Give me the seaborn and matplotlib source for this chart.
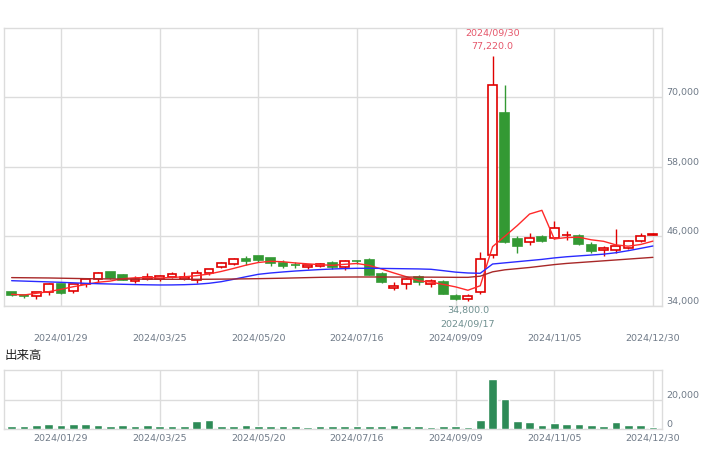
import numpy as np
import pandas as pd
import matplotlib
matplotlib.use("Agg")
import matplotlib.pyplot as plt
import matplotlib.transforms as mtransforms
import seaborn as sns

# weekly candles, 2024/01/01 .. 2024/12/30 (53 weeks)
opens = [36420, 35900, 35680, 36370, 37850, 36540, 37850, 38660, 39820, 39350,
         38270, 38610, 38720, 39060, 38700, 38440, 39650, 40690, 41200, 42070,
         42640, 42240, 41430, 41120, 40690, 40860, 41380, 40690, 41830, 41940,
         39530, 37110, 37750, 39060, 37750, 38140, 35730, 35260, 36370, 42750,
         67280, 45570, 45000, 45860, 45800, 46200, 46140, 44530, 43620, 43620,
         44070, 45170, 46210]
highs = [36420, 35900, 36370, 37920, 37850, 37850, 38830, 39820, 39820, 39580,
         39130, 39650, 39300, 39820, 39820, 40170, 40340, 41660, 42300, 42580,
         42640, 42240, 41900, 41550, 41080, 41430, 41780, 41940, 42010, 42240,
         39930, 38140, 38840, 39410, 38660, 38490, 36130, 36020, 43380, 77220,
         72170, 46100, 46550, 46200, 48730, 46900, 46370, 44980, 44300, 47250,
         45400, 46550, 46550]
lows = [35730, 35380, 35210, 35950, 36070, 36190, 37330, 38150, 38660, 38490,
        38020, 38490, 38400, 38840, 38490, 38000, 39300, 40500, 41000, 41080,
        41550, 40860, 40550, 40550, 40460, 40690, 40460, 40280, 41200, 39290,
        38020, 36760, 36990, 37580, 37230, 36130, 34980, 34800, 36020, 42300,
        44880, 43100, 44530, 45100, 45600, 45450, 44530, 43100, 42640, 43200,
        43900, 45000, 46210]
closes = [35950, 35680, 36370, 37800, 36190, 37850, 38700, 39650, 38890, 38490,
          38660, 38960, 39130, 39470, 39050, 39650, 40340, 41380, 42070, 41830,
          41950, 41380, 40960, 41030, 41080, 41250, 40800, 41830, 41720, 39410,
          38140, 37400, 38610, 38140, 38380, 36130, 35260, 35680, 42070, 72120,
          45100, 44410, 45690, 45280, 47420, 46300, 44650, 43500, 43960, 44360,
          45170, 46090, 46430]

# moving average lines
ma_short = [36020, 35900, 36190, 36470, 36880, 37330, 37700, 38100, 38300, 38720,
            38870, 38930, 38830, 38940, 39040, 39240, 39520, 39970, 40490, 41050,
            41510, 41720, 41640, 41430, 41280, 41140, 41020, 41200, 41340, 41000,
            40380, 39700, 39060, 38340, 38130, 37730, 37300, 36720, 37500, 44250,
            46050, 47880, 49880, 50520, 45580, 45820, 45870, 45430, 45170, 44550,
            44330, 44620, 45200]
ma_mid = [38370, 38300, 38230, 38160, 38090, 38000, 37920, 37850, 37800, 37750,
          37700, 37660, 37630, 37640, 37680, 37760, 37920, 38200, 38610, 39050,
          39470, 39700, 39880, 40040, 40170, 40290, 40390, 40460, 40510, 40510,
          40490, 40460, 40430, 40400, 40340, 40100, 39850, 39700, 39650, 41250,
          41450, 41650, 41850, 42050, 42300, 42500, 42650, 42800, 42950, 43200,
          43550, 43950, 44360]
ma_long = [38900, 38880, 38860, 38840, 38800, 38760, 38720, 38690, 38670, 38650,
           38640, 38630, 38620, 38610, 38610, 38610, 38620, 38640, 38660, 38690,
           38720, 38760, 38800, 38850, 38900, 38950, 38980, 39000, 39010, 39010,
           39010, 39000, 39000, 38990, 38980, 38970, 38950, 38950, 39150, 39900,
           40250, 40450, 40650, 40900, 41150, 41350, 41500, 41650, 41800, 41950,
           42100, 42250, 42400]

volume = [2200, 2200, 2900, 3550, 2900, 3550, 3550, 2900, 2200, 2900,
          2200, 2900, 2200, 2200, 2200, 5100, 6200, 2200, 2200, 2900,
          2200, 2200, 2200, 2200, 1550, 2200, 2200, 2200, 2200, 2200,
          2200, 2900, 2200, 2200, 1550, 2200, 2200, 1550, 6200, 34200,
          20200, 5550, 4900, 2900, 4200, 3550, 3550, 2900, 2200, 4900,
          2900, 2900, 1550]

tick_weeks = [4, 12, 20, 28, 36, 44, 52]
tick_labels = ['2024/01/29', '2024/03/25', '2024/05/20', '2024/07/16',
               '2024/09/09', '2024/11/05', '2024/12/30']
price_ticks = [34000, 46000, 58000, 70000]
vol_ticks = [0, 20000]
high_date = '2024/09/30'
low_date = '2024/09/17'

df = pd.DataFrame({'open': opens, 'high': highs, 'low': lows, 'close': closes,
                   'ma_short': ma_short, 'ma_mid': ma_mid, 'ma_long': ma_long,
                   'volume': volume})
df['week'] = np.arange(len(df))

RED = '#e00000'
GREEN = '#339933'
GRID = '#dcdcdc'
TXT = '#6f7a88'

sns.set_theme(style="white")
plt.rcParams['font.family'] = ['DejaVu Sans']

fig = plt.figure(figsize=(7.14, 4.53), dpi=100)
ax = fig.add_axes([0.0063, 0.3245, 0.9209, 0.6137])
axv = fig.add_axes([0.0063, 0.053, 0.9209, 0.1302])

# candles
up = df[df['close'] >= df['open']]
dn = df[df['close'] < df['open']]
ax.vlines(up['week'], up['low'], up['high'], color=RED, lw=1, zorder=2)
ax.vlines(dn['week'], dn['low'], dn['high'], color=GREEN, lw=1, zorder=2)
ax.bar(up['week'], up['close'] - up['open'], bottom=up['open'], width=0.72,
       facecolor='white', edgecolor=RED, lw=1.2, zorder=3)
ax.bar(dn['week'], dn['open'] - dn['close'], bottom=dn['close'], width=0.72,
       facecolor=GREEN, edgecolor=GREEN, lw=1.2, zorder=3)

# moving averages
sns.lineplot(data=df, x='week', y='ma_short', color='#ff2a2a', lw=1, ax=ax, zorder=4)
sns.lineplot(data=df, x='week', y='ma_mid', color='#2a2aff', lw=1, ax=ax, zorder=4)
sns.lineplot(data=df, x='week', y='ma_long', color='#a82828', lw=1, ax=ax, zorder=4)

# high / low notes
hi = df.loc[df['high'].idxmax()]
lo = df.loc[df['low'].idxmin()]
ax.annotate(f"{hi['high']:,.1f}", xy=(hi['week'], hi['high']), xytext=(0, 3.5),
            textcoords='offset points', ha='center', va='bottom',
            fontsize=6.8, color='#e5566a')
ax.annotate(high_date, xy=(hi['week'], hi['high']), xytext=(0, 13),
            textcoords='offset points', ha='center', va='bottom',
            fontsize=6.8, color='#e5566a')
ax.annotate(f"{lo['low']:,.1f}", xy=(lo['week'], lo['low']), xytext=(0, -3.5),
            textcoords='offset points', ha='center', va='top',
            fontsize=6.8, color='#6f9090')
ax.annotate(low_date, xy=(lo['week'], lo['low']), xytext=(0, -13),
            textcoords='offset points', ha='center', va='top',
            fontsize=6.8, color='#6f9090')

ax.set_xlim(-0.58, 52.74)
ax.set_ylim(34000, 82000)

# volume
sns.barplot(data=df, x='week', y='volume', native_scale=True, color='#2e8b57',
            saturation=1, width=0.7, errorbar=None, ax=axv, zorder=3)
axv.set_xlim(-0.58, 52.74)
axv.set_ylim(0, 40000)

offset = mtransforms.ScaledTranslation(0, 3 / 72, fig.dpi_scale_trans)
for a, yt, pad in [(ax, price_ticks, 19.5), (axv, vol_ticks, 3)]:
    a.set_xticks(tick_weeks)
    a.set_xticklabels(tick_labels)
    a.yaxis.tick_right()
    a.set_yticks(yt)
    a.set_yticklabels([f"{v:,}" for v in yt], va='bottom')
    for lbl in a.get_yticklabels():
        lbl.set_transform(lbl.get_transform() + offset)
    a.tick_params(axis='x', length=0, pad=pad, labelsize=6.8, labelcolor=TXT)
    a.tick_params(axis='y', length=0, pad=3, labelsize=6.8, labelcolor=TXT)
    a.grid(True, color=GRID, lw=1)
    a.set_axisbelow(True)
    a.set_xlabel('')
    a.set_ylabel('')
    for sp in a.spines.values():
        sp.set_color(GRID)
        sp.set_linewidth(1)

fig.text(0.007, 1 - 355 / 453, '出来高', family=['Noto Sans CJK JP', 'DejaVu Sans'],
         fontsize=9, va='center', ha='left', color='#222222')

fig.savefig('out.png', dpi=100)
